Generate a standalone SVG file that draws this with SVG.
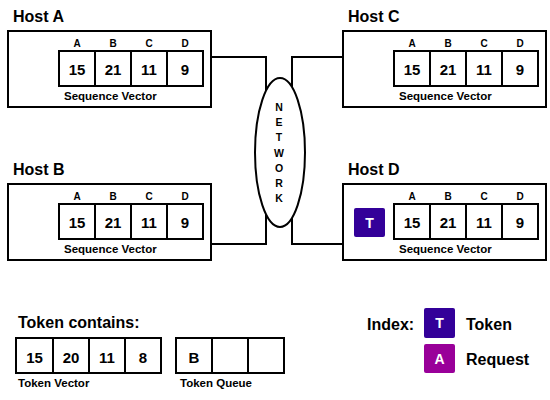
<svg xmlns="http://www.w3.org/2000/svg" width="550" height="400" viewBox="0 0 550 400">
<defs>
<style>
text{font-family:"Liberation Sans",Arial,sans-serif;font-weight:bold;fill:#000}
.box{fill:#fff;stroke:#000;stroke-width:2}
.cell{fill:#fff;stroke:#000;stroke-width:2}
.wire{fill:none;stroke:#000;stroke-width:2}
.title{font-size:16px}
.hdr{font-size:10px;text-anchor:middle}
.num{font-size:15px;text-anchor:middle}
.cap{font-size:11.5px}
.net{font-size:10.5px;text-anchor:middle}
.tok{fill:#330099}
.req{fill:#990099}
.wt{fill:#fff;font-size:14px;text-anchor:middle}
</style>
<g id="vec">
<rect class="cell" x="0" y="0" width="36" height="35"/>
<rect class="cell" x="36" y="0" width="36" height="35"/>
<rect class="cell" x="72" y="0" width="36" height="35"/>
<rect class="cell" x="108" y="0" width="36" height="35"/>
<text class="hdr" x="18" y="-4">A</text>
<text class="hdr" x="54" y="-4">B</text>
<text class="hdr" x="90" y="-4">C</text>
<text class="hdr" x="126" y="-4">D</text>
<text class="num" x="18" y="24">15</text>
<text class="num" x="54" y="24">21</text>
<text class="num" x="90" y="24">11</text>
<text class="num" x="126" y="24">9</text>
<text class="cap" x="5" y="49">Sequence Vector</text>
</g>
</defs>
<rect width="550" height="400" fill="#fff"/>
<g id="connectors">
<polyline class="wire" points="211,57 266,57 266,152"/>
<polyline class="wire" points="343,57 292,57 292,152"/>
<polyline class="wire" points="211,244 266,244 266,152"/>
<polyline class="wire" points="343,244 292,244 292,152"/>
</g>
<g id="network">
<ellipse cx="280" cy="152.5" rx="25" ry="74.5" fill="#fff" stroke="#000" stroke-width="2"/>
<text class="net" x="279" y="111">N</text>
<text class="net" x="279" y="126">E</text>
<text class="net" x="279" y="141">T</text>
<text class="net" x="279" y="157">W</text>
<text class="net" x="279" y="172">O</text>
<text class="net" x="279" y="187">R</text>
<text class="net" x="279" y="202">K</text>
</g>
<g id="hostA">
<text class="title" x="13" y="22">Host A</text>
<rect class="box" x="8" y="31" width="203" height="76"/>
<use href="#vec" x="59" y="51"/>
</g>
<g id="hostC">
<text class="title" x="348" y="22">Host C</text>
<rect class="box" x="343" y="31" width="203" height="76"/>
<use href="#vec" x="394" y="51"/>
</g>
<g id="hostB">
<text class="title" x="13" y="175">Host B</text>
<rect class="box" x="8" y="184" width="203" height="76"/>
<use href="#vec" x="59" y="204"/>
</g>
<g id="hostD">
<text class="title" x="348" y="175">Host D</text>
<rect class="box" x="343" y="184" width="203" height="76"/>
<rect class="tok" x="354" y="208" width="31" height="29" rx="2"/>
<text class="wt" x="369.5" y="228">T</text>
<use href="#vec" x="394" y="204"/>
</g>
<g id="token">
<text class="title" x="18" y="328">Token contains:</text>
<rect class="cell" x="16" y="338" width="37" height="35"/>
<rect class="cell" x="53" y="338" width="36" height="35"/>
<rect class="cell" x="89" y="338" width="36" height="35"/>
<rect class="cell" x="125" y="338" width="36" height="35"/>
<text class="num" x="34.5" y="363">15</text>
<text class="num" x="71" y="363">20</text>
<text class="num" x="107" y="363">11</text>
<text class="num" x="143" y="363">8</text>
<text class="cap" x="18" y="387">Token Vector</text>
<rect class="cell" x="176" y="338" width="36" height="35"/>
<rect class="cell" x="212" y="338" width="36" height="35"/>
<rect class="cell" x="248" y="338" width="36" height="35"/>
<text class="num" x="194" y="363">B</text>
<text class="cap" x="180" y="387">Token Queue</text>
</g>
<g id="index">
<text class="title" x="367" y="330">Index:</text>
<rect class="tok" x="424" y="308" width="31" height="30" rx="2"/>
<text class="wt" x="439.5" y="328">T</text>
<text class="title" x="466" y="330">Token</text>
<rect class="req" x="424" y="344" width="31" height="29" rx="2"/>
<text class="wt" x="439.5" y="364">A</text>
<text class="title" x="466" y="365">Request</text>
</g>
</svg>
